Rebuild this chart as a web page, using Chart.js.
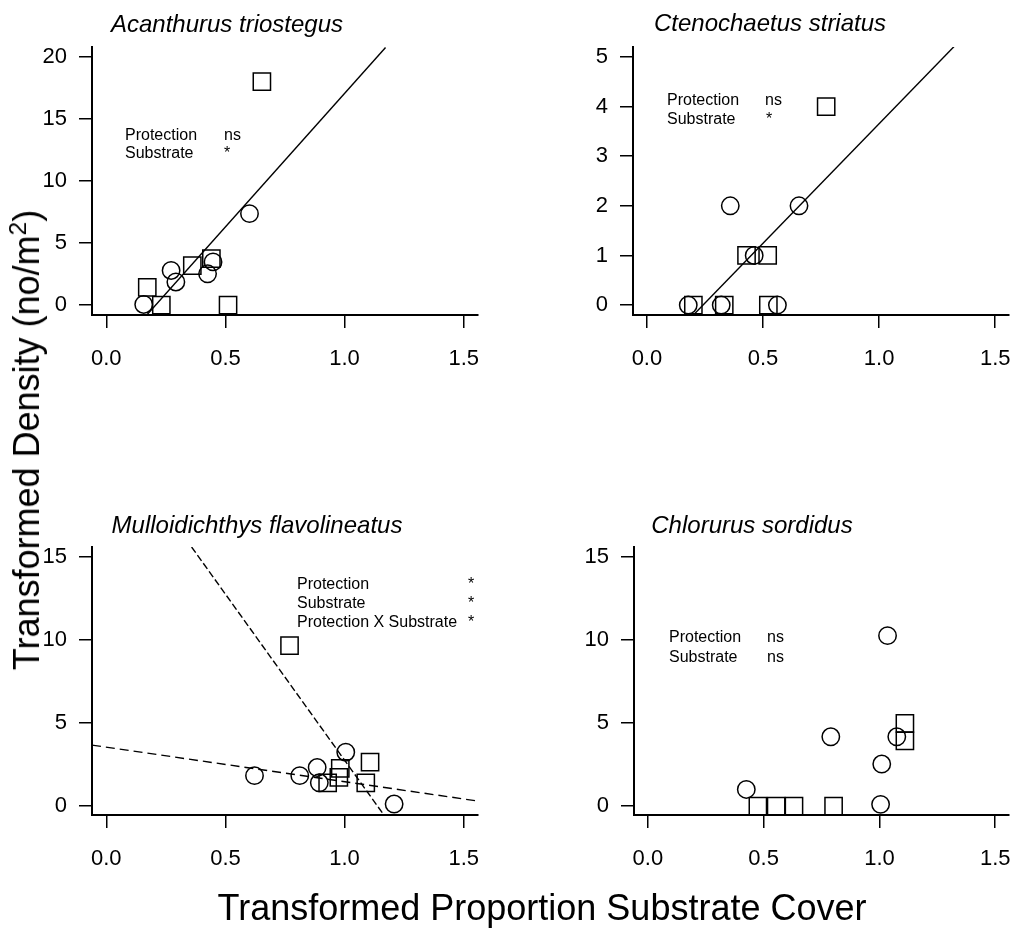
<!DOCTYPE html>
<html><head><meta charset="utf-8">
<script src="https://cdn.jsdelivr.net/npm/chart.js@4/dist/chart.umd.min.js"></script>
<style>
html,body{margin:0;padding:0;background:#fff;}
#root{position:relative;width:1029px;height:932px;overflow:hidden;background:#fff;font-family:"Liberation Sans",Arial,Helvetica,sans-serif;color:#000;}
canvas{position:absolute;}
.t{position:absolute;white-space:nowrap;}
</style></head><body><div id="root"></div>
<script>
// ---------- DATA ----------
const xTickValues = [0, 0.5, 1.0, 1.5];
const xRange = [-0.06, 1.56];

// Acanthurus triostegus
const acanthurusCircleX = [0.601, 0.448, 0.425, 0.272, 0.292, 0.157];
const acanthurusCircleY = [7.37, 3.48, 2.52, 2.79, 1.86, 0.05];
const acanthurusSquareX = [0.653, 0.441, 0.361, 0.172, 0.231, 0.511];
const acanthurusSquareY = [18.0, 3.75, 3.18, 1.43, 0.0, 0.0];
const acanthurusFitX = [0.170, 1.172];
const acanthurusFitY = [-0.80, 20.76];
const acanthurusYTicks = [0, 5, 10, 15, 20];

// Ctenochaetus striatus
const ctenoCircleX = [0.359, 0.655, 0.462, 0.178, 0.320, 0.562];
const ctenoCircleY = [2, 2, 1, 0, 0, 0];
const ctenoSquareX = [0.772, 0.429, 0.520, 0.200, 0.333, 0.523];
const ctenoSquareY = [4, 1, 1, 0, 0, 0];
const ctenoFitX = [0.200, 1.323];
const ctenoFitY = [-0.20, 5.21];
const ctenoYTicks = [0, 1, 2, 3, 4, 5];

// Mulloidichthys flavolineatus
const mulloCircleX = [0.622, 0.812, 0.894, 0.885, 1.005, 1.208];
const mulloCircleY = [1.83, 1.83, 1.40, 2.32, 3.24, 0.12];
const mulloSquareX = [0.769, 1.107, 0.982, 0.976, 0.929, 1.089];
const mulloSquareY = [9.66, 2.64, 2.27, 1.73, 1.40, 1.40];
const mulloFit1X = [0.358, 1.165];
const mulloFit1Y = [15.6, -0.54];
const mulloFit2X = [-0.06, 1.56];
const mulloFit2Y = [3.67, 0.30];
const lowerYTicks = [0, 5, 10, 15];

// Chlorurus sordidus
const chlorCircleX = [1.035, 1.075, 0.790, 1.010, 0.425, 1.005];
const chlorCircleY = [10.26, 4.17, 4.17, 2.53, 1.00, 0.10];
const chlorSquareX = [1.110, 1.110, 0.475, 0.554, 0.631, 0.802];
const chlorSquareY = [4.98, 3.93, 0, 0, 0, 0];

// ---------- LAYOUT ----------
const FONT = '"Liberation Sans", Arial, Helvetica, sans-serif';
const root = document.getElementById('root');

function pts(xs, ys){ return xs.map((v,i)=>({x:v, y:ys[i]})); }

function makePanel(p){
  const c = document.createElement('canvas');
  c.width = p.box.w; c.height = p.box.h;
  c.style.left = p.box.l + 'px'; c.style.top = p.box.t + 'px';
  c.style.width = p.box.w + 'px'; c.style.height = p.box.h + 'px';
  root.appendChild(c);
  const ds = [];
  (p.lines||[]).forEach(l => ds.push({
    data: pts(l.x, l.y), showLine: true, borderColor:'#000', borderWidth:1.4,
    borderDash: l.dash || [], pointRadius:0, fill:false, tension:0
  }));
  ds.push({data: pts(p.cx, p.cy), pointStyle:'circle', pointRadius:8.7,
    borderColor:'#000', borderWidth:1.5, backgroundColor:'rgba(0,0,0,0)', clip:false});
  ds.push({data: pts(p.sx, p.sy), pointStyle:'rect', pointRadius:12.2,
    borderColor:'#000', borderWidth:1.5, backgroundColor:'rgba(0,0,0,0)', clip:false});
  const tickFont = {family: FONT, size: 22};
  new Chart(c, {
    type:'scatter',
    data:{datasets: ds},
    options:{
      responsive:false, animation:false, events:[],
      devicePixelRatio:1,
      plugins:{legend:{display:false}, tooltip:{enabled:false}},
      layout:{padding:{left:0, top:p.area.t, right:p.box.w - p.area.r, bottom:0}},
      scales:{
        x:{type:'linear', min:xRange[0], max:xRange[1],
          afterBuildTicks: s => { s.ticks = xTickValues.map(v=>({value:v})); },
          afterFit: s => { s.height = p.box.h - p.area.b; },
          ticks:{font:tickFont, color:'#000', padding:18, autoSkip:false, maxRotation:0,
            callback: v => Number(v).toFixed(1)},
          grid:{drawOnChartArea:false, color:'#000', lineWidth:1.5, tickLength:13},
          border:{display:true, color:'#000', width:2}
        },
        y:{type:'linear', min:p.yr[0], max:p.yr[1],
          afterBuildTicks: s => { s.ticks = p.yt.map(v=>({value:v})); },
          afterFit: s => { s.width = p.area.l; },
          ticks:{font:tickFont, color:'#000', padding:12, autoSkip:false,
            callback: v => String(v)},
          grid:{drawOnChartArea:false, color:'#000', lineWidth:1.5, tickLength:13},
          border:{display:true, color:'#000', width:2}
        }
      }
    }
  });
}

function txt(s, x, baseline, size, opt){
  opt = opt || {};
  const d = document.createElement('div');
  d.className = 't';
  d.innerHTML = s;
  d.style.fontSize = size + 'px';
  d.style.lineHeight = size + 'px';
  if (opt.italic) d.style.fontStyle = 'italic';
  d.style.top = (baseline - 0.8465*size) + 'px';
  d.style.left = x + 'px';
  if (opt.center) d.style.transform = 'translateX(-50%)';
  root.appendChild(d);
  return d;
}

makePanel({box:{l:0,t:0,w:500,h:380}, area:{l:92,t:47,r:478,b:315},
  yr:[-0.8,20.8], yt:acanthurusYTicks,
  cx:acanthurusCircleX, cy:acanthurusCircleY, sx:acanthurusSquareX, sy:acanthurusSquareY,
  lines:[{x:acanthurusFitX, y:acanthurusFitY}]});
makePanel({box:{l:500,t:0,w:529,h:380}, area:{l:133,t:47,r:515,b:315},
  yr:[-0.2,5.2], yt:ctenoYTicks,
  cx:ctenoCircleX, cy:ctenoCircleY, sx:ctenoSquareX, sy:ctenoSquareY,
  lines:[{x:ctenoFitX, y:ctenoFitY}]});
makePanel({box:{l:0,t:490,w:500,h:400}, area:{l:92,t:57,r:478,b:325},
  yr:[-0.54,15.6], yt:lowerYTicks,
  cx:mulloCircleX, cy:mulloCircleY, sx:mulloSquareX, sy:mulloSquareY,
  lines:[{x:mulloFit1X, y:mulloFit1Y, dash:[7,3]}, {x:mulloFit2X, y:mulloFit2Y, dash:[9,5]}]});
makePanel({box:{l:500,t:490,w:529,h:400}, area:{l:134,t:57,r:518,b:325},
  yr:[-0.54,15.6], yt:lowerYTicks,
  cx:chlorCircleX, cy:chlorCircleY, sx:chlorSquareX, sy:chlorSquareY,
  lines:[]});

// titles
txt('Acanthurus triostegus', 227, 32, 24, {italic:true, center:true});
txt('Ctenochaetus striatus', 770, 31, 24, {italic:true, center:true});
txt('Mulloidichthys flavolineatus', 257, 533, 24, {italic:true, center:true});
txt('Chlorurus sordidus', 752, 533, 24, {italic:true, center:true});

// annotations
txt('Protection', 125, 141, 16); txt('ns', 224, 141, 16);
txt('Substrate', 125, 159, 16); txt('*', 224, 159, 16);
txt('Protection', 667, 106, 16); txt('ns', 765, 106, 16);
txt('Substrate', 667, 125, 16); txt('*', 766, 125, 16);
txt('Protection', 297, 590, 16); txt('*', 468, 590, 16);
txt('Substrate', 297, 609, 16); txt('*', 468, 609, 16);
txt('Protection X Substrate', 297, 628, 16); txt('*', 468, 628, 16);
txt('Protection', 669, 643, 16); txt('ns', 767, 643, 16);
txt('Substrate', 669, 663, 16); txt('ns', 767, 663, 16);

// axis titles
txt('Transformed Proportion Substrate Cover', 542, 920, 36, {center:true});
const yl = document.createElement('div');
yl.className = 't';
yl.innerHTML = 'Transformed Density (no/m<span style="font-size:0.68em;position:relative;top:-0.55em">2</span>)';
yl.style.fontSize = '36px'; yl.style.lineHeight = '36px';
yl.style.left = '29px'; yl.style.top = '440px';
yl.style.transform = 'translate(-50%,-50%) rotate(-90deg)';
root.appendChild(yl);
</script></body></html>
